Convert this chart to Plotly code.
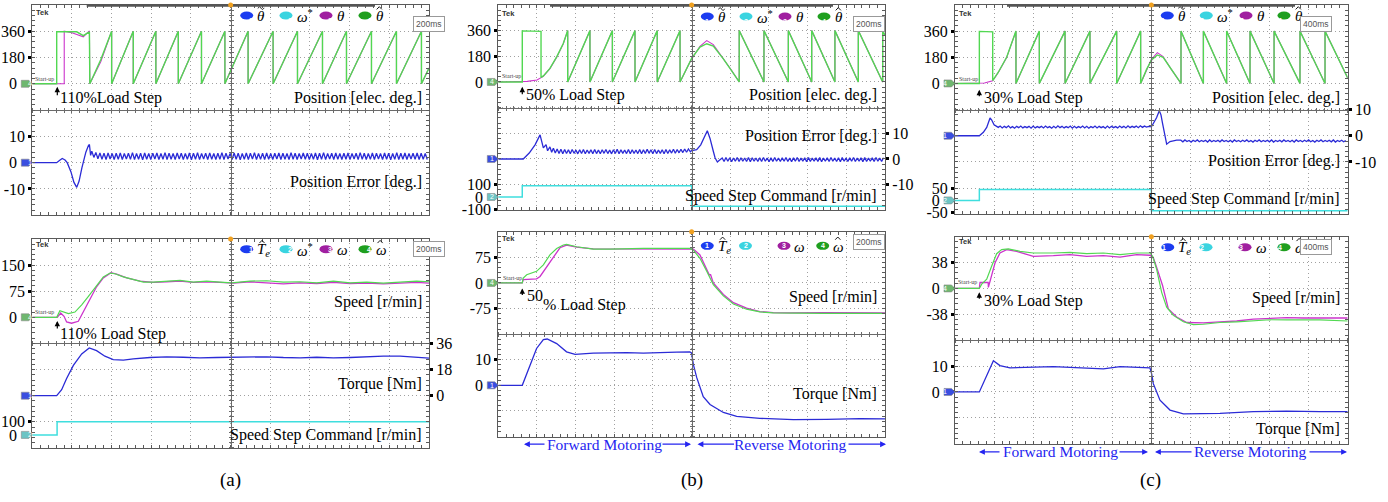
import plotly.graph_objects as go

# ============================ DATA (read from the scope shots) ============================
# ---------- (a) 110 % load step, 200 ms/div ----------
A_POS_EST_HEAD_T = [0.0, 0.123, 0.123, 0.224, 0.257, 0.288, 0.290, 0.345]
A_POS_EST_HEAD_V = [0, 0, 357, 356, 330, 355, 0, 165]
A_POS_MEAS_HEAD_T = [0.0, 0.161, 0.161, 0.200, 0.257, 0.288, 0.290, 0.345]
A_POS_MEAS_HEAD_V = [0, 0, 360, 350, 322, 362, 0, 150]
A_POS_WRAPS = [0.400, 0.509, 0.623, 0.736, 0.853, 0.971, 1.088, 1.214, 1.337, 1.463,
               1.584, 1.710, 1.836, 1.962]
A_POS_END_T = [2.0]
A_POS_END_V = [108]

A_ERR_HEAD_T = [0.0, 0.123, 0.140, 0.151, 0.165, 0.176, 0.195, 0.210, 0.224, 0.236,
                0.250, 0.257, 0.270, 0.283, 0.288, 0.294]
A_ERR_HEAD_V = [0, 0, 1.0, 1.6, 1.0, 0, -3.5, -7.5, -9.4, -7.0, -2.0, 0, 4.0, 6.5, 6.9, 2.8]
A_ERR_RIPPLE_T0 = 0.300
A_ERR_RIPPLE_DT = 0.01025
A_ERR_RIPPLE = [
    4.4, 2.0, 3.9, 1.5, 3.7, 1.3, 3.6, 1.2, 3.7, 1.4,
    3.5, 1.2, 3.6, 1.3, 3.7, 1.2, 3.5, 1.4, 3.6, 1.3,
    3.8, 1.2, 3.5, 1.3, 3.6, 1.1, 3.7, 1.3, 3.5, 1.2,
    3.6, 1.4, 3.7, 1.2, 3.5, 1.3, 3.8, 1.2, 3.6, 1.3,
    3.5, 1.2, 3.7, 1.4, 3.6, 1.2, 3.5, 1.3, 3.7, 1.1,
    3.6, 1.3, 3.8, 1.2, 3.5, 1.4, 3.6, 1.2, 3.7, 1.3,
    3.5, 1.2, 3.6, 1.3, 3.8, 1.2, 3.6, 1.4, 3.5, 1.2,
    3.7, 1.3, 3.6, 1.1, 3.5, 1.3, 3.7, 1.2, 3.6, 1.4,
    3.8, 1.2, 3.5, 1.3, 3.6, 1.2, 3.7, 1.3, 3.5, 1.2,
    3.6, 1.4, 3.7, 1.2, 3.6, 1.3, 3.5, 1.2, 3.8, 1.3,
    3.6, 1.2, 3.5, 1.4, 3.7, 1.3, 3.6, 1.2, 3.5, 1.3,
    3.7, 1.1, 3.6, 1.3, 3.8, 1.2, 3.5, 1.4, 3.6, 1.2,
    3.7, 1.3, 3.5, 1.2, 3.6, 1.3, 3.7, 1.2, 3.5, 1.4,
    3.6, 1.2, 3.8, 1.3, 3.6, 1.2, 3.5, 1.3, 3.7, 1.2,
    3.6, 1.4, 3.5, 1.2, 3.7, 1.3, 3.6, 1.1, 3.5, 1.3,
    3.8, 1.2, 3.6, 1.3, 3.7, 1.2, 3.5, 1.4, 3.6, 1.3,
    3.7, 1.2, 3.6, 1.3, 3.5, 1.2]

A_SPD_EST_T = [0.000, 0.123, 0.139, 0.160, 0.182, 0.215, 0.249, 0.282, 0.324, 0.358,
               0.392, 0.417, 0.459, 0.509, 0.560, 0.610, 0.677, 0.745, 0.812, 0.879,
               0.946, 1.005, 1.097, 1.182, 1.266, 1.350, 1.434, 1.518, 1.602, 1.686,
               1.770, 1.854, 1.938, 2.000]
A_SPD_EST_V = [0, 0, 18.9, 15.1, 10.4, 15.1, 35.9, 59.4, 92.4, 116,
               127, 125, 116, 108, 101, 101, 104, 106, 101, 104,
               101, 99, 104, 105, 101, 102, 99, 104, 99, 101,
               98, 102, 104, 102]
A_SPD_MEAS_T = [0.000, 0.126, 0.143, 0.160, 0.173, 0.198, 0.232, 0.249, 0.282, 0.324,
                0.358, 0.397, 0.425, 0.476, 0.543, 0.610, 0.677, 0.745, 0.812, 0.879,
                0.946, 1.013, 1.097, 1.182, 1.266, 1.350, 1.434, 1.518, 1.602, 1.686,
                1.770, 1.854, 1.938, 2.000]
A_SPD_MEAS_V = [0, 0, 12.3, 2.8, -13.2, -17, -11.3, 7.5, 40.6, 87.7,
                113, 128, 124, 113, 104, 100, 102, 104, 100, 102,
                100, 98, 102, 98, 96, 99, 97, 100, 97, 98,
                96, 98, 100, 98]
A_TRQ_T = [0, 0.123, 0.148, 0.173, 0.207, 0.249, 0.287, 0.324, 0.366, 0.408,
           0.459, 0.509, 0.593, 0.677, 0.761, 0.845, 0.929, 1.013, 1.097, 1.182,
           1.266, 1.350, 1.434, 1.518, 1.602, 1.686, 1.770, 1.854, 1.938, 2.0]
A_TRQ_V = [0, 0, 4.1, 11.9, 20.9, 28.8, 32.9, 31.0, 27.2, 24.8,
           24.5, 25.4, 26.3, 26.8, 26.5, 26.1, 26.3, 26.5, 26.3, 26.8,
           26.3, 26.1, 26.5, 26.1, 26.3, 26.8, 27.2, 27.2, 26.5, 25.9]
A_CMD_T = [0, 0.125, 0.125, 2.0]
A_CMD_V = [0, 0, 100, 100]

# ---------- (b) 50 % load step, speed reversal, 200 ms/div ----------
B_POS_EST_HEAD_T = [0.0, 0.124, 0.124, 0.221, 0.221, 0.233, 0.267, 0.302, 0.336]
B_POS_EST_HEAD_V = [0, 0, 358, 355, 32, 42, 95, 176, 270]
B_POS_MEAS_HEAD_T = [0.0, 0.124, 0.150, 0.200, 0.233, 0.267, 0.302, 0.336]
B_POS_MEAS_HEAD_V = [0, 0, 4, 14, 39, 93, 174, 267]
B_POS_FWD_WRAPS = [0.359, 0.474, 0.590, 0.707, 0.822, 0.940]
B_POS_HUMP_T = [0.970, 1.000, 1.043, 1.078, 1.112, 1.164, 1.207]
B_POS_EST_HUMP_V = [85, 165, 245, 268, 252, 162, 78]
B_POS_MEAS_HUMP_V = [85, 163, 250, 290, 262, 165, 80]
B_POS_REV_WRAPS = [1.246, 1.374, 1.500, 1.621, 1.741, 1.862, 1.988]
B_POS_END_T = [2.0]
B_POS_END_V = [325]

B_ERR_HEAD_T = [0.0, 0.129, 0.160, 0.190, 0.216, 0.233, 0.247, 0.255, 0.267, 0.276]
B_ERR_HEAD_V = [0, 0, 2.3, 5.5, 9.4, 4.3, 5.6, 3.2, 4.7, 2.6]
B_ERR_FWD_T0 = 0.285
B_ERR_FWD_DT = 0.0097
B_ERR_FWD_RIPPLE = [
    4.2, 2.3, 3.9, 2.1, 3.8, 2.0, 3.7, 2.1, 3.6, 2.0,
    3.7, 2.2, 3.5, 2.0, 3.6, 2.1, 3.7, 2.0, 3.5, 2.2,
    3.6, 2.0, 3.7, 2.1, 3.5, 2.0, 3.6, 2.2, 3.7, 2.1,
    3.5, 2.0, 3.6, 2.1, 3.8, 2.0, 3.6, 2.2, 3.5, 2.1,
    3.7, 2.0, 3.6, 2.2, 3.5, 2.1, 3.7, 2.0, 3.6, 2.1,
    3.8, 2.2, 3.6, 2.0, 3.7, 2.1, 3.5, 2.2, 3.6, 2.0,
    3.7, 2.1, 3.6, 2.3, 3.8, 2.2, 3.7, 2.4, 3.8, 2.5,
    3.9, 2.6, 3.9, 2.8]
B_ERR_MID_T = [1.000, 1.026, 1.047, 1.065, 1.081, 1.095, 1.103, 1.112, 1.121, 1.133, 1.145]
B_ERR_MID_V = [3.3, 3.6, 5.5, 8.5, 11.0, 8.0, 6.0, 3.0, 0.5, -1.2, -0.4]
B_ERR_REV_T0 = 1.158
B_ERR_REV_DT = 0.0097
B_ERR_REV_RIPPLE = [
    0.4, -1.0, 0.6, -0.9, 0.5, -1.1, 0.4, -0.9, 0.6, -1.0,
    0.5, -0.9, 0.4, -1.0, 0.6, -1.1, 0.5, -0.9, 0.4, -1.0,
    0.5, -1.0, 0.6, -0.9, 0.4, -1.1, 0.5, -1.0, 0.6, -0.9,
    0.4, -1.0, 0.5, -0.9, 0.6, -1.0, 0.4, -1.1, 0.5, -0.9,
    0.6, -1.0, 0.4, -0.9, 0.5, -1.1, 0.6, -1.0, 0.4, -0.9,
    0.5, -1.0, 0.6, -1.1, 0.4, -0.9, 0.5, -1.0, 0.6, -0.9,
    0.4, -1.0, 0.5, -1.1, 0.6, -0.9, 0.4, -1.0, 0.5, -0.9,
    0.6, -1.0, 0.4, -0.9, 0.5, -1.1, 0.6, -1.0, 0.4, -0.9,
    0.5, -1.0, 0.6, -0.9, 0.4, -1.0, 0.5]
B_CMD_T = [0, 0.124, 0.124, 1.0, 1.0, 2.0]
B_CMD_V = [0, 0, 92, 92, -75, -75]

B_SPD_EST_T = [0, 0.124, 0.129, 0.147, 0.198, 0.233, 0.267, 0.302, 0.336, 0.353,
               0.405, 0.491, 0.578, 0.664, 0.750, 0.836, 0.922, 0.991, 1.009, 1.043,
               1.078, 1.112, 1.164, 1.216, 1.284, 1.353, 1.422, 1.509, 1.681, 2.0]
B_SPD_EST_V = [0, 0, 14, 24, 34, 53, 82, 101, 111, 113,
               106, 99, 99, 101, 101, 101, 101, 101, 96, 72,
               34, -5, -38, -62, -77, -85, -88, -89, -89, -89]
B_SPD_MEAS_T = [0, 0.124, 0.129, 0.147, 0.198, 0.216, 0.250, 0.284, 0.319, 0.353,
                0.405, 0.491, 0.578, 0.664, 0.750, 0.836, 0.922, 0.991, 1.009, 1.043,
                1.078, 1.091, 1.098, 1.112, 1.164, 1.216, 1.284, 1.353, 1.422, 1.509,
                1.681, 2.0]
B_SPD_MEAS_V = [0, 0, 10, 10, 12, 19, 48, 77, 103, 111,
                105, 100, 100, 100, 101, 100, 101, 100, 99, 82,
                43, 24, 24, 0, -34, -58, -74, -84, -87, -88,
                -87, -88]
B_TRQ_T = [0, 0.124, 0.198, 0.233, 0.253, 0.302, 0.353, 0.397, 0.491, 0.578,
           0.664, 0.750, 0.836, 0.922, 0.991, 1.000, 1.009, 1.026, 1.060, 1.095,
           1.164, 1.233, 1.353, 1.526, 1.698, 1.871, 2.0]
B_TRQ_V = [0, 0, 14.4, 17.9, 18.1, 16.3, 13.1, 12.1, 12.6, 12.8,
           12.8, 12.6, 12.9, 13.0, 13.1, 12.5, 8.1, 3.1, -4.4, -7.5,
           -10.6, -12.1, -12.9, -13.4, -13.3, -13.0, -13.1]

# ---------- (c) 30 % load step, speed reversal, 400 ms/div ----------
C_POS_EST_HEAD_T = [0.0, 0.248, 0.248, 0.384, 0.384, 0.441, 0.526]
C_POS_EST_HEAD_V = [0, 0, 358, 355, 20, 77, 180]
C_POS_MEAS_HEAD_T = [0.0, 0.248, 0.300, 0.384, 0.441, 0.526]
C_POS_MEAS_HEAD_V = [0, 0, 3, 18, 75, 178]
C_POS_FWD_WRAPS = [0.621, 0.859, 1.121, 1.375, 1.647, 1.891]
C_POS_HUMP_T = [1.950, 2.000, 2.061, 2.120, 2.200]
C_POS_EST_HUMP_V = [95, 160, 196, 180, 98]
C_POS_MEAS_HUMP_V = [95, 165, 212, 185, 100]
C_POS_REV_WRAPS = [2.302, 2.530, 2.767, 3.005, 3.250, 3.514, 3.769]
C_POS_END_T = [4.0]
C_POS_END_V = [38]

C_ERR_HEAD_T = [0.0, 0.248, 0.289, 0.323, 0.357, 0.374, 0.398, 0.420, 0.441]
C_ERR_HEAD_V = [0, 0, 1.3, 3.2, 6.8, 6.0, 4.2, 3.6, 3.2]
C_ERR_FWD_T0 = 0.460
C_ERR_FWD_DT = 0.021
C_ERR_FWD_RIPPLE = [
    3.7, 3.0, 3.6, 3.1, 3.8, 3.0, 3.5, 2.9, 3.6, 3.1,
    3.7, 3.0, 3.5, 3.1, 3.6, 2.9, 3.7, 3.0, 3.5, 3.1,
    3.6, 3.0, 3.7, 3.1, 3.5, 2.9, 3.6, 3.0, 3.8, 3.1,
    3.6, 3.0, 3.5, 3.1, 3.7, 2.9, 3.6, 3.0, 3.5, 3.1,
    3.7, 3.0, 3.6, 2.9, 3.5, 3.1, 3.7, 3.0, 3.6, 3.1,
    3.5, 2.9, 3.7, 3.0, 3.6, 3.1, 3.5, 3.0, 3.7, 3.1,
    3.6, 3.0, 3.8, 3.1, 3.6, 3.2, 3.7, 3.1, 3.8, 3.2,
    3.7, 3.3, 3.6]
C_ERR_MID_T = [2.000, 2.020, 2.054, 2.081, 2.098, 2.115, 2.135, 2.156, 2.190, 2.225, 2.258]
C_ERR_MID_V = [3.4, 4.7, 7.0, 9.6, 8.0, 4.5, 0.5, -3.2, -2.2, -1.9, -1.7]
C_ERR_REV_T0 = 2.300
C_ERR_REV_DT = 0.021
C_ERR_REV_RIPPLE = [
    -1.7, -2.3, -1.6, -2.2, -1.8, -2.4, -1.7, -2.2, -1.6, -2.3,
    -1.8, -2.2, -1.7, -2.4, -1.6, -2.3, -1.8, -2.2, -1.7, -2.3,
    -1.6, -2.2, -1.8, -2.3, -1.7, -2.4, -1.6, -2.2, -1.8, -2.3,
    -1.7, -2.2, -1.6, -2.3, -1.8, -2.4, -1.7, -2.2, -1.6, -2.3,
    -1.8, -2.2, -1.7, -2.3, -1.6, -2.4, -1.8, -2.2, -1.7, -2.3,
    -1.6, -2.2, -1.8, -2.3, -1.7, -2.4, -1.6, -2.2, -1.8, -2.3,
    -1.7, -2.2, -1.6, -2.3, -1.8, -2.4, -1.7, -2.2, -1.6, -2.3,
    -1.8, -2.2, -1.7, -2.3, -1.6, -2.4, -1.8, -2.2, -1.7, -2.3,
    -1.8]
C_CMD_T = [0, 0.248, 0.248, 2.0, 2.0, 4.0]
C_CMD_V = [0, 0, 46, 46, -43, -43]

C_SPD_EST_T = [0, 0.248, 0.272, 0.323, 0.374, 0.424, 0.475, 0.543, 0.662, 0.798,
               1.002, 1.172, 1.341, 1.511, 1.681, 1.851, 1.986, 2.013, 2.054, 2.105,
               2.156, 2.224, 2.326, 2.428, 2.530, 2.699, 2.869, 3.039, 3.209, 3.378,
               3.548, 3.718, 4.0]
C_SPD_EST_V = [0, 0, 6.3, 13.5, 32.8, 51, 57, 58, 54.5, 52,
               52, 53, 51, 52, 49.7, 52, 52, 47, 28, -5.8,
               -27.5, -39.6, -49, -53, -52.6, -50, -49, -47, -46, -46.3,
               -46, -46.3, -47.8]
C_SPD_MEAS_T = [0, 0.248, 0.255, 0.338, 0.340, 0.360, 0.408, 0.458, 0.526, 0.628,
                0.730, 0.798, 1.002, 1.172, 1.341, 1.511, 1.681, 1.851, 1.986, 2.020,
                2.061, 2.095, 2.115, 2.173, 2.258, 2.360, 2.530, 2.699, 2.869, 3.039,
                3.209, 3.378, 3.548, 3.718, 4.0]
C_SPD_MEAS_V = [0, 0, 8.7, 8.7, 1.5, 12, 37.6, 52, 57, 54.5,
                49.7, 47, 48, 49.7, 47, 48, 46, 49.7, 48.7, 45,
                28, 13.5, 3.9, -30, -42, -50, -50.6, -49, -47.8, -45,
                -44, -43, -43.4, -43, -43.4]
C_TRQ_T = [0, 0.248, 0.391, 0.458, 0.560, 0.832, 1.002, 1.172, 1.341, 1.511,
           1.681, 1.851, 1.986, 2.003, 2.020, 2.088, 2.190, 2.326, 2.530, 2.699,
           3.039, 3.378, 3.718, 4.0]
C_TRQ_V = [0, 0, 12.1, 10.2, 9.3, 9.5, 9.8, 9.5, 9.1, 8.9,
           9.8, 9.5, 9.3, 7.0, 3.2, -3.2, -7.0, -8.5, -8.5, -8.3,
           -7.6, -7.4, -7.6, -7.6]

# ============================ STYLE / GEOMETRY ============================
W, H = 1388, 502
SERIF = "Liberation Serif, Times New Roman, serif"
SANS = "Liberation Sans, Arial, sans-serif"
C_GREEN, C_MAG, C_BLUE, C_CYAN = '#52d852', '#cc33cc', '#2b2bd6', '#3fdede'
L_BLUE, L_CYAN, L_MAG, L_GREEN = '#1c3cf0', '#3ad4e0', '#a01fa0', '#1f9f1f'
G_GREEN, G_BLUE, G_CYAN = '#6fb86f', '#3a4ee0', '#6cc4c4'
GRID, FRAME, CENTER = '#a0a0a0', '#5a5a5a', '#6a6a6a'
W_MAG, W_GREEN = 1.1, 1.4
NB = "\u00a0"
Z0 = "0" + NB * 2

TILDE_PATH = 'M-3,-0.3 C-2,1.8 -1,1.8 0,0 C1,-1.8 2,-1.8 3,0.3'
HAT_PATH = 'M-2.6,-1.3 L0,1.4 L2.6,-1.3'
# legend symbols: (base text, accent path or None, accent x-offset)
TH_TILDE = ("<i>θ</i>", TILDE_PATH, 4.8)
OM_STAR = ("<i>ω</i><sup>*</sup>", None, 0)
THETA = ("<i>θ</i>", None, 0)
TH_HAT = ("<i>θ</i>", HAT_PATH, 4.8)
TE_HAT = ("<i>T</i><sub><i>e</i></sub>", HAT_PATH, 5.8)
OMEGA = ("<i>ω</i>", None, 0)
OM_HAT = ("<i>ω</i>", HAT_PATH, 5.6)


def fx(x):
    return x / W


def fy(y):
    return 1 - y / H


fig = go.Figure()
layout = {}
annotations = []
shapes = []
counters = {'x': 0, 'y': 0}


def axis_ids(kind):
    counters[kind] += 1
    n = counters[kind]
    return (kind if n == 1 else f'{kind}{n}'), (f'{kind}axis' if n == 1 else f'{kind}axis{n}')


def empty(xid, yid):
    fig.add_trace(go.Scatter(x=[], y=[], xaxis=xid, yaxis=yid, mode='lines', hoverinfo='skip'))


def make_screen(box, tspan):
    L, R, T, B = box
    xid, xkey = axis_ids('x')
    yid, ykey = axis_ids('y')
    dx, dy = [fx(L), fx(R)], [fy(B), fy(T)]
    common = dict(showgrid=True, gridcolor=GRID, griddash='1px,3px', gridwidth=1,
                  showticklabels=False, ticks='inside', ticklen=3, tickcolor=FRAME,
                  showline=True, mirror='ticks',
                  linecolor=FRAME, linewidth=1, zeroline=False, fixedrange=True)
    layout[xkey] = dict(domain=dx, range=[0, tspan], anchor=yid, tick0=0, dtick=tspan / 10,
                        minor=dict(ticks='inside', ticklen=3, tickcolor=FRAME, dtick=tspan / 50,
                                   showgrid=False), **common)
    layout[ykey] = dict(domain=dy, range=[-4, 4], anchor=xid, tick0=0, dtick=1,
                        minor=dict(ticks='inside', ticklen=3, tickcolor=FRAME, dtick=0.2,
                                   showgrid=False), **common)
    empty(xid, yid)
    cy, cx = (dy[0] + dy[1]) / 2, (dx[0] + dx[1]) / 2
    cl = dict(showline=True, linecolor=CENTER, linewidth=1, ticks='outside', ticklen=2,
              tickwidth=1, tickcolor=CENTER, showticklabels=False, showgrid=False,
              zeroline=False, fixedrange=True)
    for side in ('bottom', 'top'):
        cxid, k = axis_ids('x')
        layout[k] = dict(overlaying=xid, anchor='free', position=cy, side=side, domain=dx,
                         range=[0, tspan], tick0=0, dtick=tspan / 50, **cl)
        empty(cxid, yid)
    for side in ('left', 'right'):
        cyid, k = axis_ids('y')
        layout[k] = dict(overlaying=yid, anchor='free', position=cx, side=side, domain=dy,
                         range=[-4, 4], tick0=0, dtick=0.2, **cl)
        empty(xid, cyid)
    return xid, yid, dy


def make_channel(xid, yid, dy, scale, zero, side, tickvals, ticktext):
    cid, ckey = axis_ids('y')
    layout[ckey] = dict(overlaying=yid, anchor=xid, side=side, domain=dy,
                        range=[(-4 - zero) * scale, (4 - zero) * scale],
                        tickmode='array', tickvals=tickvals, ticktext=ticktext,
                        ticks='outside', ticklen=3, tickwidth=3, tickcolor='black',
                        showgrid=False, zeroline=False, showline=False, fixedrange=True,
                        tickfont=dict(family=SERIF, size=16, color='black'))
    return cid


def ground(cid, L, color, num):
    shapes.append(dict(type='path', xref='paper', yref=cid, xsizemode='pixel', xanchor=fx(L),
                       ysizemode='pixel', yanchor=0,
                       path='M-11,-3.5 L-3.5,-3.5 L0,0 L-3.5,3.5 L-11,3.5 Z',
                       fillcolor=color, line=dict(color='#888', width=0.6), layer='above'))
    annotations.append(dict(xref='paper', yref=cid, x=fx(L), y=0, xshift=-6.5, text=num,
                            showarrow=False, font=dict(size=7, color='white', family=SANS)))


def line(xid, yid, t, v, color, width=1.3):
    fig.add_trace(go.Scatter(x=t, y=v, xaxis=xid, yaxis=yid, mode='lines',
                             line=dict(color=color, width=width), hoverinfo='skip'))


def text(x, y, s, anchor='left', size=16, color='black', family=SERIF):
    annotations.append(dict(xref='paper', yref='paper', x=fx(x), y=fy(y), text=s,
                            showarrow=False, xanchor=anchor, yanchor='middle',
                            font=dict(family=family, size=size, color=color), borderpad=0))


def arrow(x, y, ax, ay, color='black', width=1.2, head=2, size=0.9):
    annotations.append(dict(xref='paper', yref='paper', x=fx(x), y=fy(y), ax=ax, ay=ay,
                            axref='pixel', ayref='pixel', text='', showarrow=True,
                            arrowhead=head, arrowsize=size, arrowwidth=width, arrowcolor=color))


def legend(xs, y, labels):
    cols = [L_BLUE, L_CYAN, L_MAG, L_GREEN]
    for i, (x, lab) in enumerate(zip(xs, labels)):
        shapes.append(dict(type='circle', xref='paper', yref='paper', xsizemode='pixel',
                           ysizemode='pixel', xanchor=fx(x), yanchor=fy(y), x0=-6.5, x1=6.5,
                           y0=-4, y1=4, fillcolor=cols[i], line=dict(width=0)))
        annotations.append(dict(xref='paper', yref='paper', x=fx(x), y=fy(y), text=f'<b>{i + 1}</b>',
                                showarrow=False, font=dict(size=7, color='white', family=SANS)))
        if lab:
            base, acc, off = lab
            text(x + 9.5, y + 1, base, size=15)
            if acc:
                shapes.append(dict(type='path', xref='paper', yref='paper', xsizemode='pixel',
                                   ysizemode='pixel', xanchor=fx(x + 9.5 + off), yanchor=fy(y - 7.5),
                                   path=acc, line=dict(color='black', width=0.9)))


def scope_deco(box, bar, timebase, tek_y, leg_y, leg_xs, labels, box_y):
    L, R, T, B = box
    text(L + 3, tek_y, '<b>Tek</b>', size=7.5, color='#333', family=SANS)
    legend(leg_xs, leg_y, labels)
    annotations.append(dict(xref='paper', yref='paper', x=fx(R - 16), y=fy(box_y), text=timebase,
                            showarrow=False, font=dict(family=SANS, size=8.5, color='#555'),
                            bordercolor='#999', borderwidth=1, borderpad=2, bgcolor='white'))
    if bar:
        shapes.append(dict(type='line', xref='paper', yref='paper', x0=fx(bar[0]), x1=fx(bar[1]),
                           y0=fy(T + 0.6), y1=fy(T + 0.6), line=dict(color='#555', width=2.5)))
    shapes.append(dict(type='circle', xref='paper', yref='paper', xsizemode='pixel', ysizemode='pixel',
                       xanchor=fx((L + R) / 2), yanchor=fy(T), x0=-2.5, x1=2.5, y0=-2.5, y1=2.5,
                       fillcolor='#f0a020', line=dict(width=0)))


def build(pieces):
    t, v = [], []
    for p in pieces:
        if p[0] == 'pts':
            t += list(p[1]); v += list(p[2])
        else:
            for w in p[1]:
                t += [w, w]
                v += [360, 0] if p[2] else [0, 360]
    return t, v


def ripple(t0, dt, vals):
    return [t0 + i * dt for i in range(len(vals))], list(vals)


def join(*parts):
    t, v = [], []
    for a, b in parts:
        t += list(a); v += list(b)
    return t, v


BLUE_TXT = '#2424f0'

# ============================ (a) ============================
A_TOP = (32.3, 429.0, 5.0, 218.3)
A_BOT = (32.3, 429.0, 242.3, 454.3)
xa, ya, dy = make_screen(A_TOP, 2.0)
pos = make_channel(xa, ya, dy, 180, 1, 'left', [0, 180, 360], [Z0, '180', '360'])
err = make_channel(xa, ya, dy, 10, -2, 'left', [-10, 0, 10], ['-10', Z0, '10'])
line(xa, pos, *build([('pts', A_POS_MEAS_HEAD_T, A_POS_MEAS_HEAD_V), ('wrap', A_POS_WRAPS, True),
                      ('pts', A_POS_END_T, A_POS_END_V)]), C_MAG, W_MAG)
line(xa, pos, *build([('pts', A_POS_EST_HEAD_T, A_POS_EST_HEAD_V), ('wrap', A_POS_WRAPS, True),
                      ('pts', A_POS_END_T, A_POS_END_V)]), C_GREEN, W_GREEN)
line(xa, err, *join((A_ERR_HEAD_T, A_ERR_HEAD_V), ripple(A_ERR_RIPPLE_T0, A_ERR_RIPPLE_DT, A_ERR_RIPPLE)), C_BLUE)
ground(pos, A_TOP[0], G_GREEN, '4')
ground(err, A_TOP[0], G_BLUE, '1')
scope_deco(A_TOP, (86.7, 375), '200ms', 13, 15.7, [246.7, 286, 326, 365],
           [TH_TILDE, OM_STAR, THETA, TH_HAT], 15.8)
text(33.5, 80.5, 'Start-up', size=6, color='#444')
arrow(57.3, 88, 0, 10)
text(59.3, 99, '110%Load Step')
text(422.7, 99, 'Position [elec. deg.]', anchor='right')
text(422.7, 184.3, 'Position Error [deg.]', anchor='right')

xb, yb, dy = make_screen(A_BOT, 2.0)
spd = make_channel(xb, yb, dy, 75, 1, 'left', [0, 75, 150], [Z0, '75', '150'])
trq = make_channel(xb, yb, dy, 18, -2, 'right', [0, 18, 36], ['0', '18', '36'])
cmd = make_channel(xb, yb, dy, 200, -3.5, 'left', [0, 100], [Z0, '100'])
line(xb, spd, A_SPD_MEAS_T, A_SPD_MEAS_V, C_MAG, 1.3)
line(xb, spd, A_SPD_EST_T, A_SPD_EST_V, C_GREEN, 1.2)
line(xb, trq, A_TRQ_T, A_TRQ_V, C_BLUE)
line(xb, cmd, A_CMD_T, A_CMD_V, C_CYAN, 1.5)
ground(spd, A_BOT[0], G_GREEN, '4')
ground(trq, A_BOT[0], G_BLUE, '1')
ground(cmd, A_BOT[0], G_CYAN, '2')
scope_deco(A_BOT, None, '200ms', 248.3, 252.7, [246.7, 286, 326, 365],
           [TE_HAT, OM_STAR, OMEGA, OM_HAT], 252.2)
text(33.5, 316, 'Start-up', size=6, color='#444')
arrow(57.3, 325.5, 0, 9)
text(59.3, 338.3, '110% Load Step')
text(422.7, 306, 'Speed [r/min]', anchor='right')
text(422.7, 389.3, 'Torque [Nm]', anchor='right')
text(422.7, 440.7, 'Speed Step Command [r/min]', anchor='right')
text(230.6, 487, '(a)', anchor='center', size=19)

# ============================ (b) ============================
B_TOP = (498.3, 885.0, 5.0, 213.3)
B_BOT = (498.3, 885.0, 235.0, 442.7)
xa, ya, dy = make_screen(B_TOP, 2.0)
pos = make_channel(xa, ya, dy, 180, 1, 'left', [0, 180, 360], [Z0, '180', '360'])
err = make_channel(xa, ya, dy, 10, -2, 'right', [-10, 0, 10], ['-10', '0', '10'])
cmd = make_channel(xa, ya, dy, 210, -3.48, 'left', [-100, 0, 100], ['-100', Z0, '100'])
line(xa, pos, *build([('pts', B_POS_MEAS_HEAD_T, B_POS_MEAS_HEAD_V), ('wrap', B_POS_FWD_WRAPS, True),
                      ('pts', B_POS_HUMP_T, B_POS_MEAS_HUMP_V), ('wrap', B_POS_REV_WRAPS, False),
                      ('pts', B_POS_END_T, B_POS_END_V)]), C_MAG, W_MAG)
line(xa, pos, *build([('pts', B_POS_EST_HEAD_T, B_POS_EST_HEAD_V), ('wrap', B_POS_FWD_WRAPS, True),
                      ('pts', B_POS_HUMP_T, B_POS_EST_HUMP_V), ('wrap', B_POS_REV_WRAPS, False),
                      ('pts', B_POS_END_T, B_POS_END_V)]), C_GREEN, W_GREEN)
line(xa, err, *join((B_ERR_HEAD_T, B_ERR_HEAD_V), ripple(B_ERR_FWD_T0, B_ERR_FWD_DT, B_ERR_FWD_RIPPLE),
                    (B_ERR_MID_T, B_ERR_MID_V), ripple(B_ERR_REV_T0, B_ERR_REV_DT, B_ERR_REV_RIPPLE)), C_BLUE)
line(xa, cmd, B_CMD_T, B_CMD_V, C_CYAN, 1.5)
ground(pos, B_TOP[0], G_GREEN, '4')
ground(err, B_TOP[0], G_BLUE, '1')
ground(cmd, B_TOP[0], G_CYAN, '2')
scope_deco(B_TOP, (550, 833), '200ms', 13.3, 16.7, [707.3, 746, 785, 824],
           [TH_TILDE, OM_STAR, THETA, TH_HAT], 16.2)
text(500.7, 77.3, 'Start-up', size=6, color='#444')
arrow(522.3, 88, 0, 9)
text(525, 96.7, '50% Load Step')
text(878.3, 96.7, 'Position [elec. deg.]', anchor='right')
text(878.3, 138.3, 'Position Error [deg.]', anchor='right')
text(878.3, 199, 'Speed Step Command [r/min]', anchor='right')

xb, yb, dy = make_screen(B_BOT, 2.0)
spd = make_channel(xb, yb, dy, 75, 2, 'left', [-75, 0, 75], ['-75', Z0, '75'])
trq = make_channel(xb, yb, dy, 10, -2, 'left', [0, 10], [Z0, '10'])
line(xb, spd, B_SPD_MEAS_T, B_SPD_MEAS_V, C_MAG, 1.3)
line(xb, spd, B_SPD_EST_T, B_SPD_EST_V, C_GREEN, 1.2)
line(xb, trq, B_TRQ_T, B_TRQ_V, C_BLUE)
ground(spd, B_BOT[0], G_GREEN, '4')
ground(trq, B_BOT[0], G_BLUE, '1')
scope_deco(B_BOT, None, '200ms', 241.7, 249.3, [707.3, 745.5, 784, 822.7],
           [TE_HAT, None, OMEGA, OM_HAT], 245.5)
text(501.7, 282.3, 'Start-up', size=6, color='#444')
arrow(522.3, 292.5, 0, 8)
text(525.5, 299.3, '50')
text(541.5, 309.3, '% Load Step')
text(878.3, 301.7, 'Speed [r/min]', anchor='right')
text(878.3, 400, 'Torque [Nm]', anchor='right')
text(604, 450.5, 'Forward Motoring', anchor='center', size=15.5, color=BLUE_TXT)
arrow(524, 450.5, 22, 0, BLUE_TXT, 1.3, 2, 0.9)
arrow(691, 450.5, -30, 0, BLUE_TXT, 1.3, 2, 0.9)
text(791, 450.5, 'Reverse Motoring', anchor='center', size=15.5, color=BLUE_TXT)
arrow(697.5, 450.5, 38, 0, BLUE_TXT, 1.3, 2, 0.9)
arrow(886, 450.5, -39, 0, BLUE_TXT, 1.3, 2, 0.9)
text(691.7, 487, '(b)', anchor='center', size=19)

# ============================ (c) ============================
C_TOP = (955.0, 1347.7, 5.0, 217.3)
C_BOT = (955.0, 1347.7, 240.0, 450.0)
xa, ya, dy = make_screen(C_TOP, 4.0)
pos = make_channel(xa, ya, dy, 180, 1, 'left', [0, 180, 360], [Z0, '180', '360'])
err = make_channel(xa, ya, dy, 10, -1, 'right', [-10, 0, 10], ['-10', '0', '10'])
cmd = make_channel(xa, ya, dy, 110, -3.47, 'left', [-50, 0, 50], ['-50', Z0, '50'])
line(xa, pos, *build([('pts', C_POS_MEAS_HEAD_T, C_POS_MEAS_HEAD_V), ('wrap', C_POS_FWD_WRAPS, True),
                      ('pts', C_POS_HUMP_T, C_POS_MEAS_HUMP_V), ('wrap', C_POS_REV_WRAPS, False),
                      ('pts', C_POS_END_T, C_POS_END_V)]), C_MAG, W_MAG)
line(xa, pos, *build([('pts', C_POS_EST_HEAD_T, C_POS_EST_HEAD_V), ('wrap', C_POS_FWD_WRAPS, True),
                      ('pts', C_POS_HUMP_T, C_POS_EST_HUMP_V), ('wrap', C_POS_REV_WRAPS, False),
                      ('pts', C_POS_END_T, C_POS_END_V)]), C_GREEN, W_GREEN)
line(xa, err, *join((C_ERR_HEAD_T, C_ERR_HEAD_V), ripple(C_ERR_FWD_T0, C_ERR_FWD_DT, C_ERR_FWD_RIPPLE),
                    (C_ERR_MID_T, C_ERR_MID_V), ripple(C_ERR_REV_T0, C_ERR_REV_DT, C_ERR_REV_RIPPLE)), C_BLUE)
line(xa, cmd, C_CMD_T, C_CMD_V, C_CYAN, 1.5)
ground(pos, C_TOP[0], G_GREEN, '4')
ground(err, C_TOP[0], G_BLUE, '1')
ground(cmd, C_TOP[0], G_CYAN, '2')
scope_deco(C_TOP, (1007, 1295), '400ms', 13.3, 15.7, [1167.3, 1206.3, 1246, 1284],
           [TH_TILDE, OM_STAR, THETA, TH_HAT], 16.2)
text(958.3, 80, 'Start-up', size=6, color='#444')
arrow(979.3, 91, 0, 8)
text(982.7, 99, '30% Load Step')
text(1340.7, 99, 'Position [elec. deg.]', anchor='right')
text(1340.7, 163.3, 'Position Error [deg.]', anchor='right')
text(1340.7, 202.3, 'Speed Step Command [r/min]', anchor='right')

xb, yb, dy = make_screen(C_BOT, 4.0)
spd = make_channel(xb, yb, dy, 38, 2, 'left', [-38, 0, 38], ['-38', Z0, '38'])
trq = make_channel(xb, yb, dy, 10, -2, 'left', [0, 10], [Z0, '10'])
line(xb, spd, C_SPD_MEAS_T, C_SPD_MEAS_V, C_MAG, 1.3)
line(xb, spd, C_SPD_EST_T, C_SPD_EST_V, C_GREEN, 1.2)
line(xb, trq, C_TRQ_T, C_TRQ_V, C_BLUE)
ground(spd, C_BOT[0], G_GREEN, '4')
ground(trq, C_BOT[0], G_BLUE, '1')
scope_deco(C_BOT, None, '400ms', 245, 250.7, [1167.8, 1206, 1245, 1284],
           [TE_HAT, None, OMEGA, OM_HAT], 250.5)
text(957.3, 286, 'Start-up', size=6, color='#444')
arrow(979.3, 296.5, 0, 8)
text(982.7, 305, '30% Load Step')
text(1340.7, 302.7, 'Speed [r/min]', anchor='right')
text(1340.7, 435, 'Torque [Nm]', anchor='right')
text(1060, 458.3, 'Forward Motoring', anchor='center', size=15.5, color=BLUE_TXT)
arrow(979, 458.3, 22, 0, BLUE_TXT, 1.3, 2, 0.9)
arrow(1148, 458.3, -30, 0, BLUE_TXT, 1.3, 2, 0.9)
text(1250, 458.3, 'Reverse Motoring', anchor='center', size=15.5, color=BLUE_TXT)
arrow(1155, 458.3, 38, 0, BLUE_TXT, 1.3, 2, 0.9)
arrow(1347, 458.3, -39, 0, BLUE_TXT, 1.3, 2, 0.9)
text(1150, 487, '(c)', anchor='center', size=19)

fig.update_layout(width=W, height=H, autosize=False, margin=dict(l=0, r=0, t=0, b=0),
                  paper_bgcolor='white', plot_bgcolor='white', showlegend=False,
                  annotations=annotations, shapes=shapes, **layout)
fig.write_html("out.html", config={'displayModeBar': False},
               post_script="document.body.style.margin='0';document.body.style.overflow='hidden';")
